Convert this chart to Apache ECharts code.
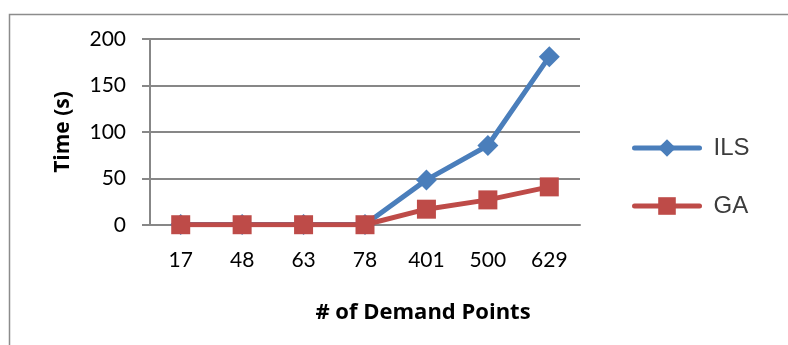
<!DOCTYPE html>
<html>
<head>
<meta charset="utf-8">
<script src="https://cdn.jsdelivr.net/npm/echarts@6/dist/echarts.min.js"></script>
<style>
  html, body { margin: 0; padding: 0; background: #fff; }
  #chart { width: 788px; height: 345px; }
</style>
</head>
<body>
<div id="chart"></div>
<script>
// Number of demand points per instance
const categories = ['17', '48', '63', '78', '401', '500', '629'];
// Running time in seconds
const ilsTimes = [0.5, 0.5, 0.5, 0.5, 48.5, 85.5, 181];
const gaTimes = [0.3, 0.3, 0.3, 0.3, 17, 27, 41];
const yTicks = { min: 0, max: 200, interval: 50 };

const chart = echarts.init(document.getElementById('chart'));
const gray = '#878787';
const labelFont = 'Lato, "Open Sans", sans-serif';
const titleFont = '"Open Sans", Lato, sans-serif';

chart.setOption({
  animation: false,
  backgroundColor: '#fff',
  graphic: [{
    type: 'polyline',
    shape: { points: [[9.5, 345], [9.5, 14.5], [788, 14.5]] },
    style: { stroke: '#8c8c8c', lineWidth: 1.5, fill: null }
  }],
  grid: { left: 150, right: 208, top: 39, bottom: 120 },
  legend: {
    orient: 'vertical',
    left: 632,
    top: 136,
    padding: 0,
    itemWidth: 65,
    itemHeight: 22,
    itemGap: 34,
    lineStyle: { width: 5, cap: 'round' },
    textStyle: { fontFamily: '"Liberation Sans", Arial, sans-serif', fontSize: 24, color: '#3c3c3c', padding: [0, 0, 0, 9] },
    data: ['ILS', 'GA']
  },
  xAxis: {
    type: 'category',
    data: categories,
    boundaryGap: true,
    name: '# of Demand Points',
    nameLocation: 'middle',
    nameGap: 77,
    nameTextStyle: { fontFamily: titleFont, fontWeight: 'bold', fontSize: 22, color: '#000', padding: [0, 0, 0, 116] },
    axisLine: { show: true, lineStyle: { color: gray, width: 2 } },
    axisTick: { show: false },
    axisLabel: { margin: 25, fontFamily: labelFont, fontSize: 21, color: '#000' }
  },
  yAxis: {
    type: 'value',
    min: yTicks.min,
    max: yTicks.max,
    interval: yTicks.interval,
    name: 'Time (s)',
    nameLocation: 'middle',
    nameGap: 76,
    nameTextStyle: { fontFamily: titleFont, fontWeight: 'bold', fontSize: 21, color: '#000' },
    axisLine: { show: true, lineStyle: { color: gray, width: 2 } },
    axisTick: { show: true, length: 8, lineStyle: { color: gray, width: 2 } },
    splitLine: { show: true, lineStyle: { color: gray, width: 2 } },
    axisLabel: { margin: 24, fontFamily: labelFont, fontSize: 21, color: '#000' }
  },
  series: [
    {
      name: 'ILS',
      type: 'line',
      data: ilsTimes,
      symbol: 'diamond',
      symbolSize: 21,
      itemStyle: { color: '#4a7ebb' },
      lineStyle: { color: '#4a7ebb', width: 5 },
      z: 2
    },
    {
      name: 'GA',
      type: 'line',
      data: gaTimes,
      symbol: 'rect',
      symbolSize: 19,
      itemStyle: { color: '#be4b48' },
      lineStyle: { color: '#be4b48', width: 5 },
      z: 3
    }
  ]
});
</script>
</body>
</html>
